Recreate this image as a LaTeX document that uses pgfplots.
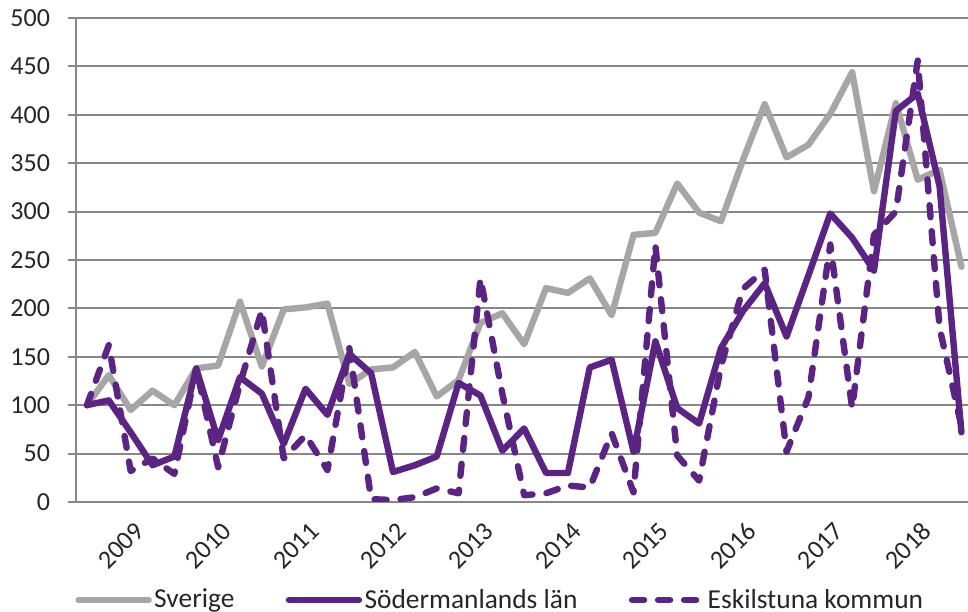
\documentclass[border=0pt]{standalone}
\usepackage{fontspec}
\setmainfont{Carlito}
\usepackage{pgfplots}
\pgfplotsset{compat=1.18}
\definecolor{sgray}{HTML}{A6A6A6}
\definecolor{spurple}{HTML}{5C2482}
\definecolor{gridgray}{HTML}{878787}

% quarterly values, index 0..40
\pgfplotstableread{
q  sverige  sodermanland  eskilstuna
0  100  100  100
1  131  105  162
2  95   72   32
3  115  38   45
4  100  47   29
5  138  138  138
6  141  64   36
7  207  129  122
8  140  112  198
9  199  60   45
10 201  117  69
11 205  90   33
12 122  153  159
13 137  133  3
14 139  31   2
15 155  38   5
16 109  47   14
17 126  123  9
18 185  110  231
19 195  53   112
20 163  76   7
21 221  30   9
22 216  30   17
23 231  139  15
24 193  147  71
25 276  52   10
26 278  166  265
27 329  97   48
28 299  81   22
29 290  159  140
30 353  197  220
31 411  226  240
32 356  171  52
33 369  234  108
34 401  298  266
35 444  273  97
36 321  239  276
37 412  404  300
38 333  422  456
39 343  326  180
40 243  72   78
}\datatable

\begin{document}
\begin{tikzpicture}
\useasboundingbox (0,0) rectangle (484bp,306bp);
\begin{axis}[
    at={(38bp,55bp)}, anchor=south west,
    scale only axis, width=446bp, height=242bp,
    xmin=-0.5, xmax=40.3, ymin=0, ymax=500,
    axis lines*=left,
    axis line style={gridgray, line width=1bp},
    /pgf/number format/assume math mode=true,
    ytick={0,50,...,500},
    ymajorgrids,
    grid style={gridgray, line width=1bp},
    tick align=outside,
    major tick length=4bp,
    minor tick length=4bp,
    tick style={gridgray, line width=1bp},
    xtick=\empty,
    minor xtick={-0.5,0.5,...,39.5},
    extra x ticks={2,6,10,14,18,22,26,30,34,38},
    extra x tick labels={2009,2010,2011,2012,2013,2014,2015,2016,2017,2018},
    extra x tick style={major tick length=0pt,
        xticklabel style={rotate=45, anchor=east, inner sep=0pt,
        xshift=-5.5bp, yshift=-12bp,
        font=\fontsize{13bp}{15bp}\selectfont, text=black!85}},
    yticklabel style={font=\fontsize{13bp}{15bp}\selectfont, text=black!85, xshift=-5.5bp},
    legend columns=3,
    legend style={draw=none, fill=none, at={(0,0)}, anchor=west,
        xshift=-0.5bp, yshift=-49bp, inner sep=0pt,
        font=\fontsize{13.7bp}{16bp}\selectfont,
        nodes={inner sep=1.2bp, text=black!85},
        /tikz/every even column/.append style={column sep=24.5bp}},
    legend cell align=left,
    legend image code/.code={\draw[#1] (0bp,0bp) -- (35bp,0bp);},
    every axis plot/.append style={line width=3.2bp, line cap=round, line join=round},
]
\addplot[sgray] table[x=q, y=sverige] {\datatable};
\addlegendentry{Sverige}
\addplot[spurple] table[x=q, y=sodermanland] {\datatable};
\addlegendentry{Södermanlands län}
\addplot[spurple, dash pattern=on 6bp off 7bp] table[x=q, y=eskilstuna] {\datatable};
\addlegendentry{Eskilstuna kommun}
\end{axis}
\end{tikzpicture}
\end{document}
